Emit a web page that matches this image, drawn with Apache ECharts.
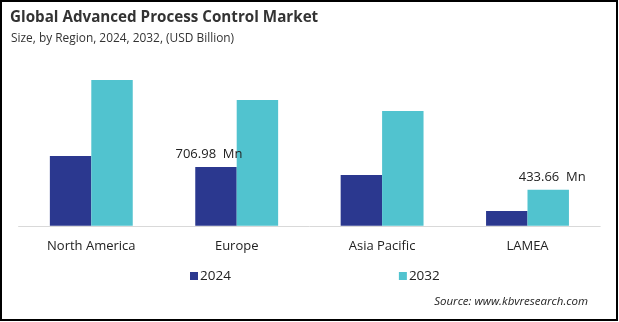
<!DOCTYPE html>
<html>
<head>
<meta charset="utf-8">
<script src="https://cdn.jsdelivr.net/npm/echarts@6/dist/echarts.min.js"></script>
<style>
html,body{margin:0;padding:0;background:#fff;}
#chart{width:619px;height:322px;}
</style>
</head>
<body>
<div id="chart"></div>
<script>
const categories = ['North America', 'Europe', 'Asia Pacific', 'LAMEA'];
const seriesNames = ['2024', '2032'];
const values2024 = [839, 706.98, 611, 178];
const values2032 = [1752, 1512, 1380, 433.66];
const labelled2024 = [false, true, false, false];
const labelled2032 = [false, false, false, true];
const titleText = 'Global Advanced Process Control Market';
const subtitleText = 'Size, by Region, 2024, 2032, (USD Billion)';
const sourceText = 'Source: www.kbvresearch.com';

const FONT = '"Open Sans", "Noto Sans", sans-serif';
const colors = ['#2b388f', '#51c3cf'];

function makeData(vals, flags, offset) {
  return vals.map((v, i) => flags[i]
    ? { value: v, label: { show: true, position: 'top', distance: 6, offset: offset,
        formatter: '{c}  Mn', color: '#222', fontSize: 13, fontFamily: FONT } }
    : v);
}

const chart = echarts.init(document.getElementById('chart'));
chart.setOption({
  animation: false,
  backgroundColor: '#fff',
  title: [
    { text: titleText, left: 10, top: 10, padding: 0,
      textStyle: { fontFamily: FONT, fontWeight: 'bold', fontSize: 15.2, color: '#333' } },
    { text: subtitleText, left: 11, top: 33, padding: 0,
      textStyle: { fontFamily: FONT, fontWeight: 'normal', fontSize: 11.9, color: '#333' } }
  ],
  legend: {
    data: seriesNames,
    left: 185, top: 264, itemGap: 168,
    itemWidth: 8, itemHeight: 8, icon: 'rect',
    textStyle: { fontFamily: FONT, fontSize: 13.5, color: '#222', padding: [0, 0, 0, -3] }
  },
  grid: { left: 18.6, right: 18.8, top: 42.8, bottom: 96.2 },
  xAxis: {
    type: 'category', data: categories,
    axisLine: { show: true, lineStyle: { color: '#d9d9d9', width: 1 } },
    axisTick: { show: false },
    axisLabel: { margin: 14, fontFamily: FONT, fontSize: 13, color: '#222' }
  },
  yAxis: {
    type: 'value', min: 0, max: 2200, show: false,
    splitLine: { show: false }
  },
  series: [
    { name: seriesNames[0], type: 'bar', data: makeData(values2024, labelled2024, [-7, 0]),
      itemStyle: { color: colors[0] }, barGap: '0%', barCategoryGap: '43%' },
    { name: seriesNames[1], type: 'bar', data: makeData(values2032, labelled2032, [4, 0]),
      itemStyle: { color: colors[1] }, barGap: '0%', barCategoryGap: '43%' }
  ],
  graphic: [
    { type: 'text', right: 31, top: 296,
      style: { text: sourceText, fontFamily: FONT, fontStyle: 'italic', fontSize: 11.5, fill: '#222' } },
    { type: 'rect', shape: { x: 1, y: 1, width: 616, height: 319 },
      style: { fill: 'none', stroke: '#000', lineWidth: 2 }, silent: true }
  ]
});
</script>
</body>
</html>
